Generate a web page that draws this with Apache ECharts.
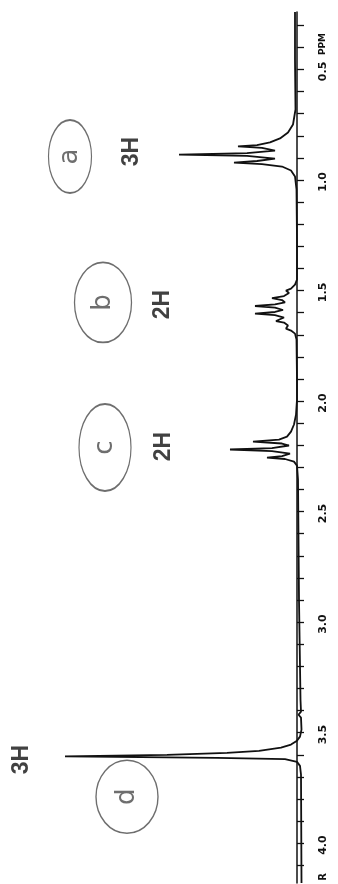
<!DOCTYPE html>
<html>
<head>
<meta charset="utf-8">
<title>1H NMR spectrum</title>
<script src="https://cdn.jsdelivr.net/npm/echarts@6.0.0/dist/echarts.min.js"></script>
<style>
  html, body { margin: 0; padding: 0; background: #fff; }
  #chart { width: 338px; height: 884px; }
</style>
</head>
<body>
<div id="chart"></div>
<script>
// spectrum trace: chemical shift (ppm) and signal height
const shiftPpm = [
  0.24, 0.455, 0.681, 0.749, 0.785, 0.812, 0.830, 0.842, 0.848, 0.855,
  0.867, 0.878, 0.885, 0.891, 0.903, 0.914, 0.921, 0.928, 0.939, 0.957,
  0.984, 1.043, 1.269, 1.428,
  1.450, 1.473, 1.491, 1.500, 1.511, 1.525, 1.534, 1.543, 1.554, 1.563,
  1.570, 1.577, 1.588, 1.597, 1.604, 1.611, 1.622, 1.631, 1.638, 1.645,
  1.658, 1.672, 1.681, 1.695, 1.722, 1.903,
  1.993, 2.061, 2.106, 2.138, 2.161, 2.174, 2.183, 2.192, 2.201, 2.213,
  2.219, 2.226, 2.238, 2.249, 2.256, 2.262, 2.274, 2.292, 2.355, 2.898,
  3.351,
  3.405, 3.419, 3.432, 3.486, 3.518, 3.536, 3.554, 3.568, 3.582, 3.591,
  3.600, 3.607, 3.614, 3.620, 3.632, 3.650, 3.690, 4.18
];
const intensity = [
  2, 2, 1.5, 4, 9, 17, 27, 40, 59, 35,
  22, 50, 118, 50, 22, 40, 63, 35, 15, 6,
  2, 0.5, 0, 0,
  0, 2, 6, 11, 8, 13, 25, 15, 12, 22,
  42, 22, 14, 22, 42, 22, 13, 14, 21, 13,
  9, 11, 6, 2, 0.5, 0,
  0, 1, 3, 6, 10, 18, 44, 15, 8, 25,
  67, 25, 7, 15, 30, 12, 3, 0, -1, -2,
  -3.5,
  -4, -1.5, -4, -4.5, -3, 0, 6, 16, 38, 70,
  130, 232, 80, 12, 0, -3, -4, -4.5
];

// ticks every 0.1 ppm, numbered every 0.5 ppm
const tickPpm = [
  0.3, 0.4, 0.5, 0.6, 0.7, 0.8, 0.9, 1.0, 1.1, 1.2, 1.3, 1.4, 1.5,
  1.6, 1.7, 1.8, 1.9, 2.0, 2.1, 2.2, 2.3, 2.4, 2.5, 2.6, 2.7, 2.8,
  2.9, 3.0, 3.1, 3.2, 3.3, 3.4, 3.5, 3.6, 3.7, 3.8, 3.9, 4.0, 4.1
];
const labelPpm = [0.5, 1.0, 1.5, 2.0, 2.5, 3.0, 3.5, 4.0];

// hand annotations: signal letter and integration
const groupLetters = ['a', 'b', 'c', 'd'];
const groupIntegrals = ['3H', '2H', '2H', '3H'];

// where the annotations sit, as [height, ppm]
const integralAt = [[165, 0.871], [134, 1.563], [133, 2.206], [275, 3.622]];
const circleAt = [[227, 0.894], [194, 1.554], [192, 2.210], [170, 3.790]];
const circleSize = [[43, 73], [57, 80], [52, 87], [62, 73]];

const chart = echarts.init(document.getElementById('chart'), null, { renderer: 'canvas' });

const ink = '#111';
const pencil = '#4a4a4a';

const option = {
  animation: false,
  backgroundColor: '#ffffff',
  grid: { left: 0, right: 30, top: 12, bottom: 1, outerBoundsMode: 'none', containLabel: false },
  xAxis: {
    type: 'value',
    inverse: true,
    min: -11,
    max: 297,
    show: false
  },
  yAxis: {
    type: 'value',
    position: 'right',
    inverse: true,
    min: 0.24,
    max: 4.18,
    splitLine: { show: false },
    axisLine: { show: true, lineStyle: { color: ink, width: 1.5 } },
    axisTick: {
      show: true,
      customValues: tickPpm,
      length: 7,
      lineStyle: { color: ink, width: 1.3 }
    },
    axisLabel: {
      customValues: labelPpm,
      rotate: 90,
      margin: 10,
      color: ink,
      fontFamily: 'DejaVu Sans',
      fontWeight: 'bold',
      fontSize: 11,
      formatter: (v) => v.toFixed(1) + ' '
    }
  },
  graphic: [
    {
      type: 'text',
      x: 323, y: 44,
      rotation: Math.PI / 2,
      style: {
        text: 'PPM', fill: ink, font: 'bold 9px "DejaVu Sans"',
        align: 'center', verticalAlign: 'middle'
      }
    },
    {
      type: 'text',
      x: 323, y: 877,
      rotation: Math.PI / 2,
      style: {
        text: 'R', fill: ink, font: 'bold 10px "DejaVu Sans"',
        align: 'center', verticalAlign: 'middle'
      }
    }
  ],
  series: [
    {
      name: 'spectrum',
      type: 'line',
      data: shiftPpm.map((p, k) => [intensity[k], p]),
      showSymbol: false,
      symbol: 'none',
      silent: true,
      lineStyle: { color: ink, width: 1.8 },
      z: 3
    },
    {
      name: 'integrals',
      type: 'scatter',
      data: integralAt.map((pos, k) => ({ value: pos, name: groupIntegrals[k] })),
      symbolSize: 0,
      silent: true,
      label: {
        show: true,
        position: 'inside',
        rotate: 90,
        formatter: (p) => p.name,
        color: ink,
        fontFamily: 'Liberation Sans',
        fontWeight: 'bold',
        fontSize: 23
      }
    },
    {
      name: 'groups',
      type: 'scatter',
      data: circleAt.map((pos, k) => ({
        value: pos,
        name: groupLetters[k],
        symbolSize: circleSize[k]
      })),
      symbol: 'circle',
      silent: true,
      itemStyle: { color: 'rgba(0,0,0,0)', borderColor: pencil, borderWidth: 1.5 },
      label: {
        show: true,
        position: 'inside',
        rotate: 90,
        formatter: (p) => p.name,
        color: pencil,
        fontFamily: 'DejaVu Sans',
        fontSize: 26
      }
    }
  ]
};

chart.setOption(option);

window.addEventListener('resize', () => chart.resize());
</script>
</body>
</html>
